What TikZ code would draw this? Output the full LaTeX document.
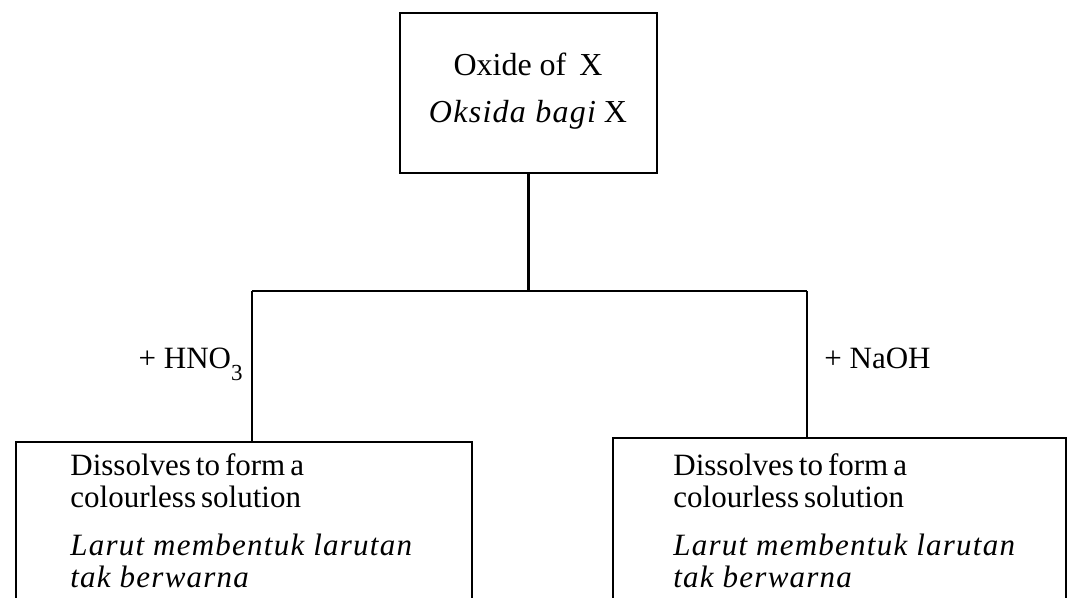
\documentclass[tikz,border=0pt]{standalone}
\usepackage{fontspec}
\setmainfont{Liberation Serif}
\newfontfamily\itsp{Liberation Serif}[LetterSpace=4]
\newcommand{\subthree}{\raisebox{-12pt}{\fontsize{23}{23}\selectfont 3}}
\begin{document}
\begin{tikzpicture}[x=1pt,y=-1pt,line width=2.8pt,
  txt/.style={inner sep=0pt,font=\fontsize{31}{35}\selectfont},
  toptxt/.style={inner sep=0pt,font=\fontsize{32}{36}\selectfont},
  tight/.style={execute at begin node={\spaceskip=5pt plus 1pt\relax}},
  boxline/.style={line width=2.8pt,line join=miter}]
\useasboundingbox (0,0) rectangle (1068,597);
% top box
\node[draw,boxline,minimum width=257pt,minimum height=160pt,inner sep=0pt] (top) at (528.5,93) {};
\node[toptxt,anchor=base] (t1) at (528,75) {Oxide of\hspace{5pt} X};
\node[toptxt,anchor=base] (t2) at (528,122) {{\itsp\itshape Oksida bagi} X};
% junctions
\coordinate (j) at (528.5,291);
\coordinate (lj) at (252,291);
\coordinate (rj) at (807,291);
\coordinate (lt) at (252,442);
\coordinate (rt) at (807,438);
\draw[boxline] (top.south) -- (j);
\draw[boxline] (lj) -- (rj);
\draw[boxline] (lj) -- (lt);
\draw[boxline] (rj) -- (rt);
% labels
\node[txt,anchor=base east] (hno) at (244,368) {+ HNO\subthree};
\node[txt,anchor=base west] (naoh) at (823,368) {+ NaOH};
% left box
\draw[boxline] (16,602) -- (16,442) -- (472,442) -- (472,602);
\node[txt,tight,anchor=base west] (l1) at (69,475) {Dissolves to form a};
\node[txt,tight,anchor=base west] (l2) at (69,507) {colourless solution};
\node[txt,anchor=base west] (l3) at (69,555) {\itsp\itshape Larut membentuk larutan};
\node[txt,anchor=base west] (l4) at (69,587) {\itsp\itshape tak berwarna};
% right box
\draw[boxline] (613,602) -- (613,438) -- (1066,438) -- (1066,602);
\node[txt,tight,anchor=base west] (r1) at (672,475) {Dissolves to form a};
\node[txt,tight,anchor=base west] (r2) at (672,507) {colourless solution};
\node[txt,anchor=base west] (r3) at (672,555) {\itsp\itshape Larut membentuk larutan};
\node[txt,anchor=base west] (r4) at (672,587) {\itsp\itshape tak berwarna};
\end{tikzpicture}
\end{document}
